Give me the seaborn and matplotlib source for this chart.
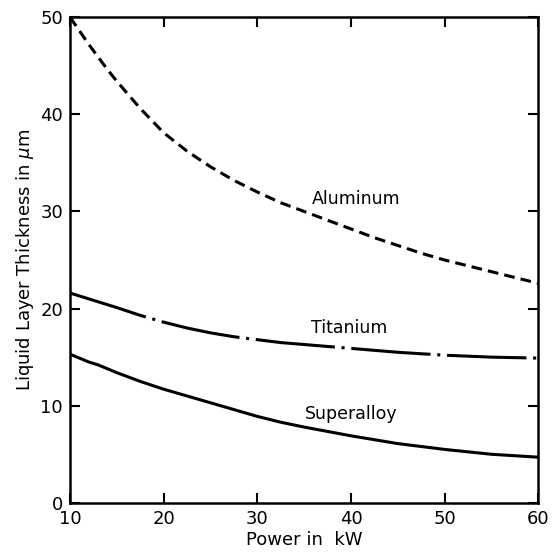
import matplotlib
matplotlib.use("Agg")
import matplotlib.pyplot as plt
import seaborn as sns
import pandas as pd

# Values
power_kw = [10, 11, 12, 13, 14, 15, 17.5, 20, 22.5, 25, 27.5, 30,
            32.5, 35, 37.5, 40, 42.5, 45, 47.5, 50, 55, 60]
aluminum = [50.0, 48.6, 47.2, 45.9, 44.6, 43.4, 40.6, 38.1, 36.2, 34.6, 33.2, 32.0,
            30.9, 30.0, 29.1, 28.2, 27.3, 26.5, 25.7, 25.0, 23.8, 22.6]
titanium = [21.6, 21.3, 21.0, 20.7, 20.4, 20.1, 19.3, 18.6, 18.0, 17.5, 17.1, 16.8,
            16.5, 16.3, 16.1, 15.9, 15.7, 15.5, 15.35, 15.2, 15.0, 14.9]
superalloy = [15.3, 14.9, 14.5, 14.2, 13.8, 13.4, 12.5, 11.7, 11.0, 10.3, 9.6, 8.9,
              8.3, 7.8, 7.35, 6.9, 6.5, 6.1, 5.8, 5.5, 5.0, 4.7]

x_ticks = [10, 20, 30, 40, 50, 60]
y_ticks = [0, 10, 20, 30, 40, 50]

# label positions for curve names (data coords)
labels = {
    'Aluminum': (40.6, 31.3),
    'Titanium': (39.8, 18.0),
    'Superalloy': (40.0, 9.1),
}

sns.set_style("ticks", {'text.color': 'black', 'axes.labelcolor': 'black',
                        'xtick.color': 'black', 'ytick.color': 'black'})
plt.rcParams['font.family'] = ['DejaVu Sans']

fig = plt.figure(figsize=(5.56, 5.55), dpi=100)
ax = fig.add_axes([0.126, 0.094, 0.842, 0.875])

df = pd.DataFrame({'power': power_kw, 'Aluminum': aluminum,
                   'Titanium': titanium, 'Superalloy': superalloy})

styles = {
    'Aluminum': (0, (3.5, 2.0)),
    'Titanium': (0, (26, 2.2, 1.0, 2.2)),
    'Superalloy': '-',
}

for name in ['Aluminum', 'Titanium', 'Superalloy']:
    sns.lineplot(data=df, x='power', y=name, ax=ax, color='black',
                 linewidth=2.2, linestyle=styles[name])
    lx, ly = labels[name]
    ax.text(lx, ly, name, ha='center', va='center', fontsize=12.5, color='black')

ax.set_xlim(10, 60)
ax.set_ylim(0, 50)
ax.set_xticks(x_ticks)
ax.set_yticks(y_ticks)
ax.tick_params(direction='in', length=7, width=1.5, labelsize=13,
               top=True, right=True, pad=5, colors='black')
for s in ax.spines.values():
    s.set_linewidth(1.8)
    s.set_color('black')

ax.set_xlabel('Power in  kW', fontsize=13, labelpad=2, color='black')
ax.set_ylabel(r'Liquid Layer Thickness in $\mu$m', fontsize=13, labelpad=3, color='black')

fig.savefig('out.png', dpi=100)
